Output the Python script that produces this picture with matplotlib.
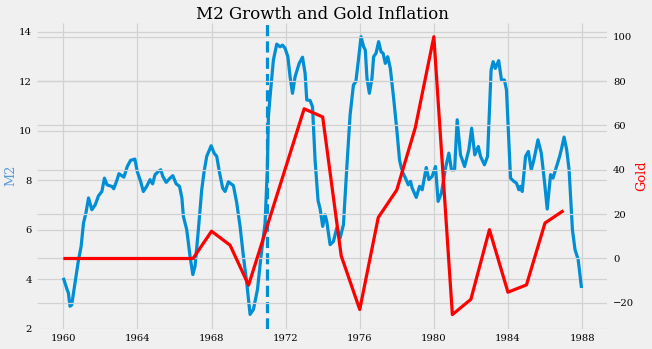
import matplotlib
matplotlib.use("Agg")
import matplotlib.pyplot as plt

# ---- data ----
m2_year = [1960.00, 1960.20, 1960.27, 1960.36, 1960.45, 1960.63, 1960.82, 1960.96, 1961.09, 1961.22,
           1961.36, 1961.54, 1961.72, 1961.90, 1962.08, 1962.22, 1962.36, 1962.63, 1962.72, 1962.90,
           1963.00, 1963.27, 1963.45, 1963.63, 1963.86, 1963.99, 1964.17, 1964.32, 1964.50, 1964.68,
           1964.82, 1964.95, 1965.13, 1965.26, 1965.37, 1965.55, 1965.76, 1965.91, 1966.09, 1966.27,
           1966.40, 1966.48, 1966.66, 1966.84, 1966.99, 1967.11, 1967.29, 1967.47, 1967.60, 1967.74,
           1967.98, 1968.14, 1968.28, 1968.42, 1968.60, 1968.73, 1968.91, 1969.18, 1969.36, 1969.54,
           1969.72, 1969.90, 1970.08, 1970.26, 1970.48, 1970.67, 1970.89, 1971.01, 1971.07, 1971.16,
           1971.34, 1971.52, 1971.70, 1971.83, 1971.97, 1972.12, 1972.24, 1972.37, 1972.51, 1972.73,
           1972.91, 1973.05, 1973.14, 1973.32, 1973.45, 1973.59, 1973.75, 1973.86, 1974.00, 1974.13,
           1974.22, 1974.40, 1974.58, 1974.76, 1974.94, 1975.12, 1975.30, 1975.48, 1975.66, 1975.79,
           1975.94, 1976.07, 1976.21, 1976.30, 1976.39, 1976.52, 1976.66, 1976.75, 1976.88, 1977.02,
           1977.15, 1977.26, 1977.38, 1977.51, 1977.65, 1977.83, 1978.01, 1978.15, 1978.29, 1978.47,
           1978.62, 1978.74, 1978.83, 1979.05, 1979.23, 1979.37, 1979.59, 1979.73, 1979.91, 1980.09,
           1980.23, 1980.41, 1980.63, 1980.81, 1980.95, 1981.12, 1981.26, 1981.44, 1981.66, 1981.89,
           1982.04, 1982.21, 1982.40, 1982.52, 1982.73, 1982.90, 1983.01, 1983.09, 1983.20, 1983.32,
           1983.50, 1983.65, 1983.81, 1983.92, 1984.05, 1984.14, 1984.32, 1984.46, 1984.59, 1984.68,
           1984.77, 1984.95, 1985.10, 1985.26, 1985.40, 1985.62, 1985.80, 1985.98, 1986.12, 1986.30,
           1986.43, 1986.57, 1986.79, 1986.88, 1987.03, 1987.17, 1987.30, 1987.48, 1987.62, 1987.79,
           1987.90, 1987.97]
m2_value = [4.05, 3.58, 3.45, 2.90, 2.95, 3.85, 4.78, 5.32, 6.27, 6.67,
            7.28, 6.80, 7.00, 7.37, 7.54, 8.08, 7.81, 7.74, 7.65, 8.01,
            8.26, 8.12, 8.55, 8.80, 8.85, 8.35, 7.95, 7.54, 7.75, 8.02,
            7.85, 8.22, 8.35, 8.42, 8.15, 7.91, 8.08, 8.18, 7.85, 7.75,
            7.28, 6.53, 6.00, 4.92, 4.18, 4.52, 6.00, 7.61, 8.35, 8.96,
            9.39, 9.09, 8.96, 8.35, 7.68, 7.54, 7.93, 7.78, 7.08, 6.13,
            4.92, 3.85, 2.57, 2.77, 3.58, 4.92, 6.27, 8.42, 10.57, 11.38,
            12.86, 13.50, 13.39, 13.46, 13.33, 12.99, 12.18, 11.51, 12.18, 12.72,
            12.97, 12.32, 11.24, 11.22, 10.97, 8.79, 7.17, 6.84, 6.13, 6.60,
            6.33, 5.39, 5.52, 6.07, 5.66, 6.20, 8.49, 10.64, 11.85, 11.98,
            12.93, 13.80, 13.39, 13.26, 12.12, 11.51, 12.12, 12.99, 13.13, 13.60,
            13.19, 13.13, 12.72, 12.99, 12.52, 11.31, 9.96, 8.80, 8.35, 8.08,
            7.81, 7.95, 7.68, 7.30, 7.75, 7.61, 8.51, 8.02, 8.15, 8.55,
            7.14, 7.48, 8.49, 9.09, 8.42, 8.42, 10.44, 9.02, 8.55, 9.23,
            10.10, 9.02, 9.36, 8.96, 8.62, 8.96, 10.97, 12.45, 12.79, 12.52,
            12.83, 12.05, 12.05, 11.65, 9.50, 8.08, 7.95, 7.88, 7.61, 7.75,
            7.54, 8.96, 9.16, 8.42, 8.82, 9.63, 9.09, 7.88, 6.83, 8.22,
            8.08, 8.42, 8.96, 9.23, 9.74, 9.23, 8.42, 6.00, 5.19, 4.79,
            4.11, 3.64]

gold_year = [1960, 1961, 1962, 1963, 1964, 1965, 1966, 1967, 1968, 1969,
             1970, 1971, 1972, 1973, 1974, 1975, 1976, 1977, 1978, 1979,
             1980, 1981, 1982, 1983, 1984, 1985, 1986, 1987]
gold_value = [0, 0, 0, 0, 0, 0, 0, 0, 12.3, 6.0,
              -12.0, 14.5, 41.0, 67.5, 63.8, 1.2, -23.0, 18.5, 30.9, 59.0,
              100.0, -25.3, -18.4, 13.0, -15.2, -11.9, 16.0, 21.6]

event_year = 1971.0
x_ticks = [1960, 1964, 1968, 1972, 1976, 1980, 1984, 1988]
x_tick_labels = ["1960", "1964", "1968", "1972", "1976", "1980", "1984", "1988"]
left_ticks = [2, 4, 6, 8, 10, 12, 14]
right_ticks = [-20, 0, 20, 40, 60, 80, 100]

# ---- styling ----
plt.style.use("fivethirtyeight")
plt.rcParams["font.family"] = ["DejaVu Serif"]

fig = plt.figure(figsize=(6.52, 3.49), dpi=100, facecolor="#f0f0f0")
ax = fig.add_axes([0.0574, 0.0587, 0.8742, 0.876])
ax.set_facecolor("#f0f0f0")

ax.plot(m2_year, m2_value, color="#008fd5", linewidth=2.3, zorder=3)
ax.axvline(event_year, color="#008fd5", linestyle=(0, (3.5, 1.6)), linewidth=2.3, zorder=3)
ax.set_ylabel("M2", color="#5b9bd5", fontsize=9.3, labelpad=1)
ax.set_title("M2 Growth and Gold Inflation", fontsize=12, pad=3)

ax.set_xticks(x_ticks)
ax.set_xticklabels(x_tick_labels)
ax.set_yticks(left_ticks)
ax.tick_params(axis="both", labelsize=7.2, length=0, pad=4)
ax.grid(True, color="#d2d2d2", linewidth=0.9)

ax2 = ax.twinx()
ax2.plot(gold_year, gold_value, color="red", linewidth=2.3, zorder=3)
ax2.set_yticks(right_ticks)
ax2.set_ylabel("Gold", color="red", fontsize=9.3, labelpad=1)
ax2.tick_params(axis="both", labelsize=7.2, length=0, pad=4)
ax2.grid(True, color="#d2d2d2", linewidth=0.9)

for a in (ax, ax2):
    for s in a.spines.values():
        s.set_visible(False)

fig.savefig("out.png", dpi=100, facecolor="#f0f0f0")
